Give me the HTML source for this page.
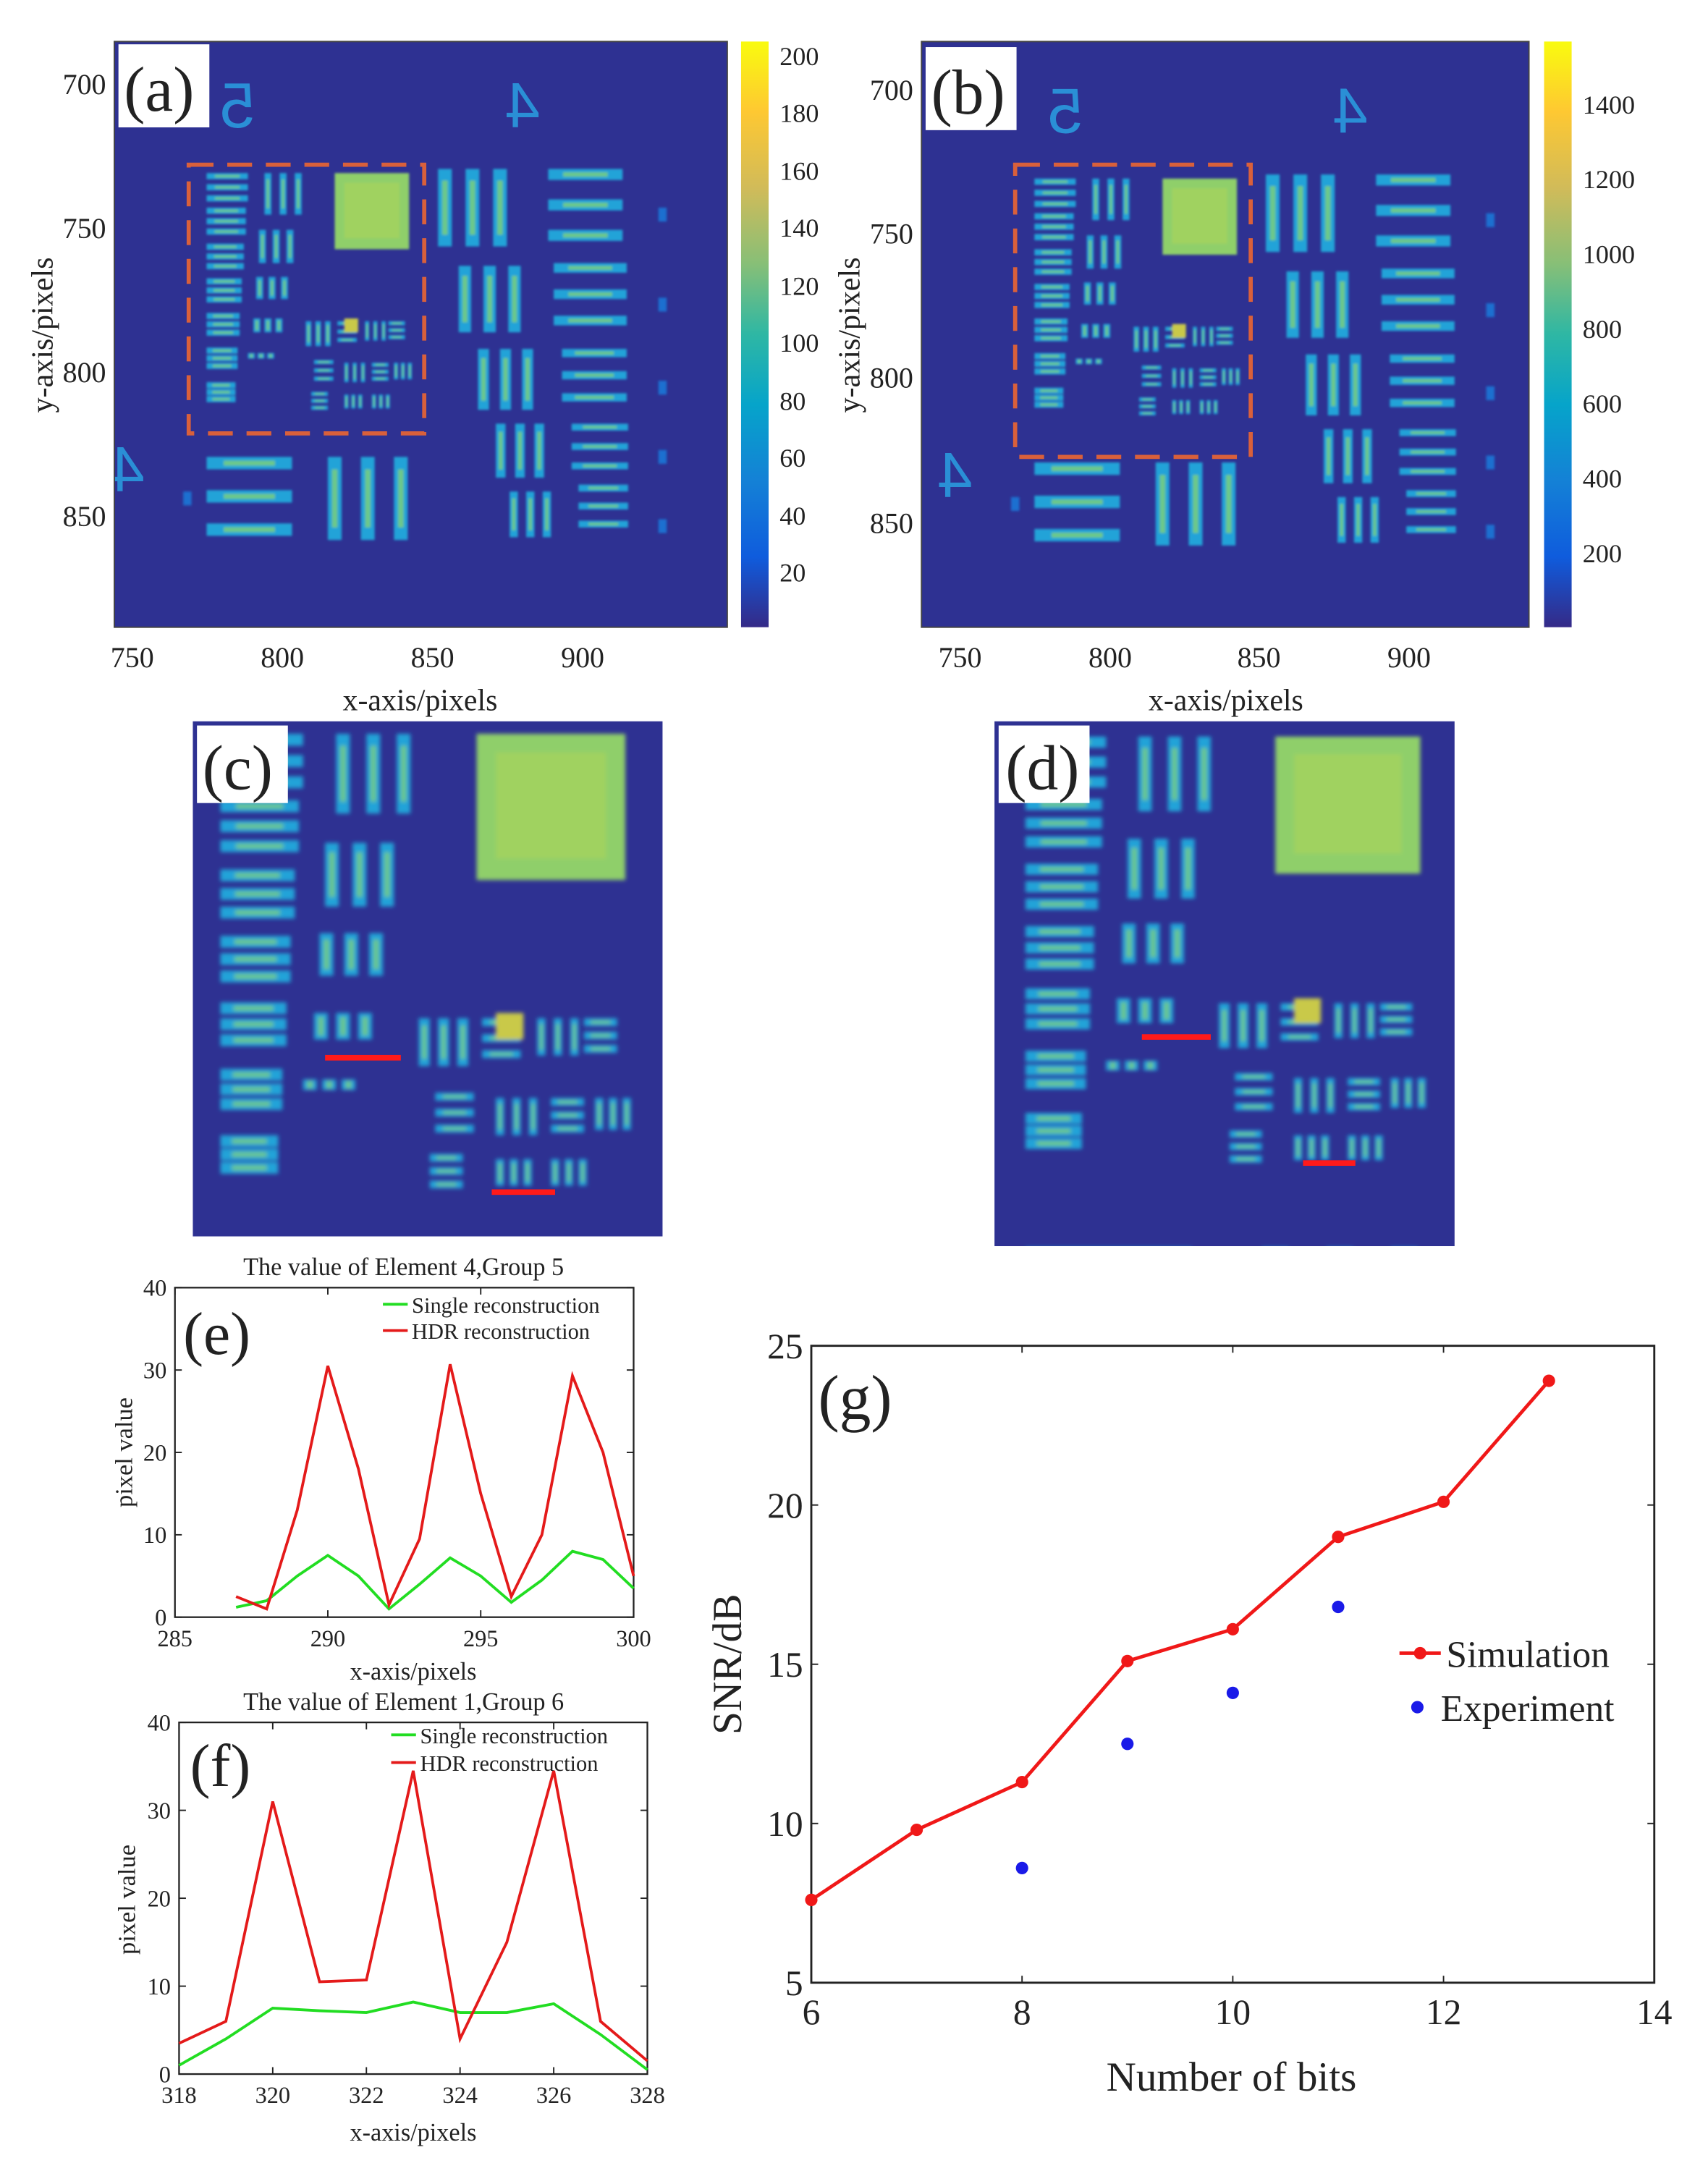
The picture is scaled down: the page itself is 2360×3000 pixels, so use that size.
<!DOCTYPE html>
<html><head><meta charset="utf-8"><style>
html,body{margin:0;padding:0;background:#fff}
svg{display:block}
text{font-family:"Liberation Serif",serif;fill:#222}
</style></head><body>
<svg id="s" width="2360" height="3000" viewBox="0 0 1240 1568" preserveAspectRatio="none" xmlns="http://www.w3.org/2000/svg">
<defs>
<linearGradient id="parula" x1="0" y1="1" x2="0" y2="0">
<stop offset="0" stop-color="#352a87"/><stop offset="0.12" stop-color="#0f5cdd"/><stop offset="0.25" stop-color="#1481d6"/><stop offset="0.38" stop-color="#06a4ca"/><stop offset="0.5" stop-color="#2eb7a4"/><stop offset="0.62" stop-color="#87bf77"/><stop offset="0.75" stop-color="#d1bb59"/><stop offset="0.88" stop-color="#fec832"/><stop offset="1" stop-color="#f9fb0e"/>
</linearGradient>
<filter id="bl"><feGaussianBlur stdDeviation="0.8"/></filter>
<clipPath id="ca"><rect x="83" y="30" width="445" height="423"/></clipPath>
<clipPath id="cb"><rect x="669" y="30" width="441" height="423"/></clipPath>
<clipPath id="cc"><rect x="140" y="521" width="341" height="372"/></clipPath>
<clipPath id="cd"><rect x="722" y="521" width="334" height="379"/></clipPath>
<g id="content">
<rect x="-300" y="-100" width="1200" height="800" fill="#2e3192"/>
<text x="185" y="92" font-size="46" style="fill:#2a8fd6;font-family:'Liberation Sans',sans-serif" transform="translate(370,0) scale(-1,1)">5</text>
<text x="392" y="92" font-size="46" style="fill:#2a8fd6;font-family:'Liberation Sans',sans-serif" transform="translate(784,0) scale(-1,1)">4</text>
<text x="105" y="355" font-size="46" style="fill:#2a8fd6;font-family:'Liberation Sans',sans-serif" transform="translate(210,0) scale(-1,1)">4</text>
<g id="bars" filter="url(#bl)"></g>
</g>
</defs>

<!-- (a) -->
<g clip-path="url(#ca)"><use href="#content"/></g>
<rect x="137" y="119" width="171" height="194" fill="none" stroke="#d9603b" stroke-width="3" stroke-dasharray="18,10"/>
<rect x="83" y="30" width="445" height="423" fill="none" stroke="#444" stroke-width="1"/>
<rect x="86" y="32" width="66" height="60" fill="#fff"/>
<text x="90" y="80" font-size="46">(a)</text>
<rect x="538" y="30" width="20" height="423" fill="url(#parula)"/>
<g font-size="19" text-anchor="start">
<text x="566" y="47">200</text><text x="566" y="88">180</text><text x="566" y="130">160</text><text x="566" y="171">140</text><text x="566" y="213">120</text><text x="566" y="254">100</text><text x="566" y="296">80</text><text x="566" y="337">60</text><text x="566" y="379">40</text><text x="566" y="420">20</text>
</g>
<g font-size="21" text-anchor="end">
<text x="77" y="68">700</text><text x="77" y="172">750</text><text x="77" y="276">800</text><text x="77" y="380">850</text>
</g>
<g font-size="21" text-anchor="middle">
<text x="96" y="482">750</text><text x="205" y="482">800</text><text x="314" y="482">850</text><text x="423" y="482">900</text>
</g>
<text x="305" y="513" font-size="22" text-anchor="middle">x-axis/pixels</text>
<text transform="translate(38,242) rotate(-90)" font-size="22" text-anchor="middle">y-axis/pixels</text>

<!-- (b) -->
<g clip-path="url(#cb)"><use href="#content" transform="translate(601,4)"/></g>
<rect x="737" y="119" width="171" height="211" fill="none" stroke="#d9603b" stroke-width="3" stroke-dasharray="18,10"/>
<rect x="669" y="30" width="441" height="423" fill="none" stroke="#444" stroke-width="1"/>
<rect x="672" y="34" width="66" height="60" fill="#fff"/>
<text x="676" y="82" font-size="46">(b)</text>
<rect x="1121" y="30" width="20" height="423" fill="url(#parula)"/>
<g font-size="19">
<text x="1149" y="82">1400</text><text x="1149" y="136">1200</text><text x="1149" y="190">1000</text><text x="1149" y="244">800</text><text x="1149" y="298">600</text><text x="1149" y="352">400</text><text x="1149" y="406">200</text>
</g>
<g font-size="21" text-anchor="end">
<text x="663" y="72">700</text><text x="663" y="176">750</text><text x="663" y="280">800</text><text x="663" y="385">850</text>
</g>
<g font-size="21" text-anchor="middle">
<text x="697" y="482">750</text><text x="806" y="482">800</text><text x="914" y="482">850</text><text x="1023" y="482">900</text>
</g>
<text x="890" y="513" font-size="22" text-anchor="middle">x-axis/pixels</text>
<text transform="translate(624,242) rotate(-90)" font-size="22" text-anchor="middle">y-axis/pixels</text>

<!-- (c) -->
<g clip-path="url(#cc)"><use href="#content" transform="translate(-140,290) scale(2,1.92)"/></g>
<rect x="236" y="762" width="55" height="4" fill="#ff1a1a"/>
<rect x="357" y="859" width="46" height="4" fill="#ff1a1a"/>
<rect x="143" y="524" width="66" height="56" fill="#fff"/>
<text x="147" y="570" font-size="46">(c)</text>

<!-- (d) -->
<g clip-path="url(#cd)"><use href="#content" transform="translate(452,307) scale(1.95,1.8)"/></g>
<rect x="829" y="747" width="50" height="4" fill="#ff1a1a"/>
<rect x="946" y="838" width="38" height="4" fill="#ff1a1a"/>
<rect x="725" y="524" width="66" height="56" fill="#fff"/>
<text x="730" y="570" font-size="46">(d)</text>

<g id="plots"></g>
</svg>
<script>
const NS="http://www.w3.org/2000/svg";
function el(p,t,a,txt){const e=document.createElementNS(NS,t);for(const k in a)e.setAttribute(k,a[k]);if(txt!==undefined)e.textContent=txt;p.appendChild(e);return e;}
const B=document.getElementById("bars");
const C1="#22a3d8",C2="#6cc88a";
function hb(x,y,w,h,n,gap){for(let i=0;i<n;i++){el(B,"rect",{x:x,y:y+i*gap,width:w,height:h,fill:C1});el(B,"rect",{x:x+w*0.2,y:y+i*gap+h*0.3,width:w*0.6,height:h*0.4,fill:C2});}}
function vb(x,y,w,h,n,gap){for(let i=0;i<n;i++){el(B,"rect",{x:x+i*gap,y:y,width:w,height:h,fill:C1});el(B,"rect",{x:x+i*gap+w*0.3,y:y+h*0.15,width:w*0.4,height:h*0.7,fill:C2});}}
const ys=[125,150,176,201,226,251,276];
ys.forEach((y,i)=>{hb(150,y,30-i*1.5,4.5,3,8-i*0.5);});
[[192,125,30,5,3,11],[188,166,28,5,3,10],[186,200,24,5,3,9],[184,230,22,5,3,8],[180,255,20,5,3,7],[176,279,18,5,3,6]].forEach((g,i)=>{vb(g[0],g[1],g[3],g[2]-4*i,g[4],g[5]);});
el(B,"rect",{x:243,y:125,width:54,height:55,fill:"#8fcf6a"});
el(B,"rect",{x:250,y:132,width:40,height:40,fill:"#a6d35c",opacity:0.7});
vb(222,232,4,18,3,7);hb(245,232,14,3,3,6);el(B,"rect",{x:250,y:230,width:10,height:10,fill:"#c9c94a"});
vb(265,232,3,14,3,6);hb(282,232,12,3,3,5);
hb(228,260,14,3,3,6);vb(250,262,3,14,3,6);hb(270,262,12,3,3,5);vb(286,262,3,12,3,5);
hb(226,283,12,3,3,5);vb(250,285,3,10,3,5);vb(270,285,3,10,3,5);
vb(318,122,10,56,3,20);hb(398,122,54,8,3,22);
vb(333,192,9,48,3,18);hb(402,190,53,7,3,19);
vb(347,252,8,44,3,16);hb(408,252,47,6,3,16);
vb(360,306,7,39,3,14);hb(415,306,41,5,3,14);
vb(370,355,6,33,3,12);hb(420,350,36,5,3,13);
hb(150,330,62,9,3,24);vb(238,330,10,60,3,24);
[[478,150],[478,215],[478,275],[478,325],[478,375],[133,355]].forEach(p=>el(B,"rect",{x:p[0],y:p[1],width:6,height:10,fill:"#1b6fd0"}));

const P=document.getElementById("plots");
function plot(o){
 const {x0,x1,y0,y1,xmin,xmax,ymin,ymax}=o;
 const X=v=>x0+(v-xmin)/(xmax-xmin)*(x1-x0), Y=v=>y1-(v-ymin)/(ymax-ymin)*(y1-y0);
 el(P,"rect",{x:x0,y:y0,width:x1-x0,height:y1-y0,fill:"#fff",stroke:"#222","stroke-width":o.sw||1.2});
 o.xt.forEach(v=>{el(P,"line",{x1:X(v),x2:X(v),y1:y1,y2:y1-5,stroke:"#222"});el(P,"line",{x1:X(v),x2:X(v),y1:y0,y2:y0+5,stroke:"#222"});el(P,"text",{x:X(v),y:y1+o.fs+4,"font-size":o.fs,"text-anchor":"middle"},v);});
 o.yt.forEach(v=>{el(P,"line",{x1:x0,x2:x0+5,y1:Y(v),y2:Y(v),stroke:"#222"});el(P,"line",{x1:x1,x2:x1-5,y1:Y(v),y2:Y(v),stroke:"#222"});el(P,"text",{x:x0-6,y:Y(v)+o.fs*0.35,"font-size":o.fs,"text-anchor":"end"},v);});
 o.series.forEach(s=>{
  if(s.line)el(P,"polyline",{points:s.d.map(p=>X(p[0])+","+Y(p[1])).join(" "),fill:"none",stroke:s.c,"stroke-width":s.w||2});
  if(s.m)s.d.forEach(p=>el(P,"circle",{cx:X(p[0]),cy:Y(p[1]),r:s.m,fill:s.c}));
 });
}
const fs=17;
plot({x0:127,x1:460,y0:930,y1:1168,xmin:285,xmax:300,ymin:0,ymax:40,xt:[285,290,295,300],yt:[0,10,20,30,40],fs:fs,
series:[{line:1,c:"#22dd22",d:[[287,1.2],[288,2],[289,5],[290,7.5],[291,5],[292,1],[293,4],[294,7.2],[295,5],[296,1.8],[297,4.5],[298,8],[299,7],[300,3.5]]},
{line:1,c:"#e41a1a",d:[[287,2.5],[288,1],[289,13],[290,30.5],[291,18],[292,1.5],[293,9.5],[294,30.7],[295,15],[296,2.5],[297,10],[298,29.3],[299,20],[300,5]]}]});
plot({x0:130,x1:470,y0:1244,y1:1498,xmin:318,xmax:328,ymin:0,ymax:40,xt:[318,320,322,324,326,328],yt:[0,10,20,30,40],fs:fs,
series:[{line:1,c:"#22dd22",d:[[318,1],[319,4],[320,7.5],[321,7.2],[322,7],[323,8.2],[324,7],[325,7],[326,8],[327,4.5],[328,0.5]]},
{line:1,c:"#e41a1a",d:[[318,3.5],[319,6],[320,31],[321,10.5],[322,10.7],[323,34.5],[324,4],[325,15],[326,34.5],[327,6],[328,1.5]]}]});
plot({x0:589,x1:1201,y0:972,y1:1432,xmin:6,xmax:14,ymin:5,ymax:25,xt:[6,8,10,12,14],yt:[5,10,15,20,25],fs:26,sw:1.5,
series:[{line:1,m:4.5,c:"#f01818",w:2.5,d:[[6,7.6],[7,9.8],[8,11.3],[9,15.1],[10,16.1],[11,19],[12,20.1],[13,23.9]]},
{m:4.5,c:"#1a1ae8",d:[[8,8.6],[9,12.5],[10,14.1],[11,16.8]]}]});
function T(x,y,s,t,a,r){const e=el(P,"text",{x:x,y:y,"font-size":s,"text-anchor":a||"start"},t);if(r)e.setAttribute("transform","rotate(-90 "+x+" "+y+")");}
T(293,921,18,"The value of Element 4,Group 5","middle");
T(293,1235,18,"The value of Element 1,Group 6","middle");
T(300,1213,18,"x-axis/pixels","middle");T(300,1546,18,"x-axis/pixels","middle");
T(96,1049,18,"pixel value","middle",1);T(98,1372,18,"pixel value","middle",1);
T(894,1510,30,"Number of bits","middle");T(538,1202,30,"SNR/dB","middle",1);
T(133,978,44,"(e)");T(138,1290,44,"(f)");T(594,1025,46,"(g)");
el(P,"line",{x1:278,x2:296,y1:942,y2:942,stroke:"#22dd22","stroke-width":2});T(299,948,16,"Single reconstruction");
el(P,"line",{x1:278,x2:296,y1:961,y2:961,stroke:"#e41a1a","stroke-width":2});T(299,967,16,"HDR reconstruction");
el(P,"line",{x1:284,x2:302,y1:1253,y2:1253,stroke:"#22dd22","stroke-width":2});T(305,1259,16,"Single reconstruction");
el(P,"line",{x1:284,x2:302,y1:1273,y2:1273,stroke:"#e41a1a","stroke-width":2});T(305,1279,16,"HDR reconstruction");
el(P,"line",{x1:1016,x2:1046,y1:1194,y2:1194,stroke:"#f01818","stroke-width":2.5});el(P,"circle",{cx:1031,cy:1194,r:4.5,fill:"#f01818"});T(1050,1204,27,"Simulation");
el(P,"circle",{cx:1029,cy:1233,r:4.5,fill:"#1a1ae8"});T(1046,1243,27,"Experiment");
</script>
</body></html>
